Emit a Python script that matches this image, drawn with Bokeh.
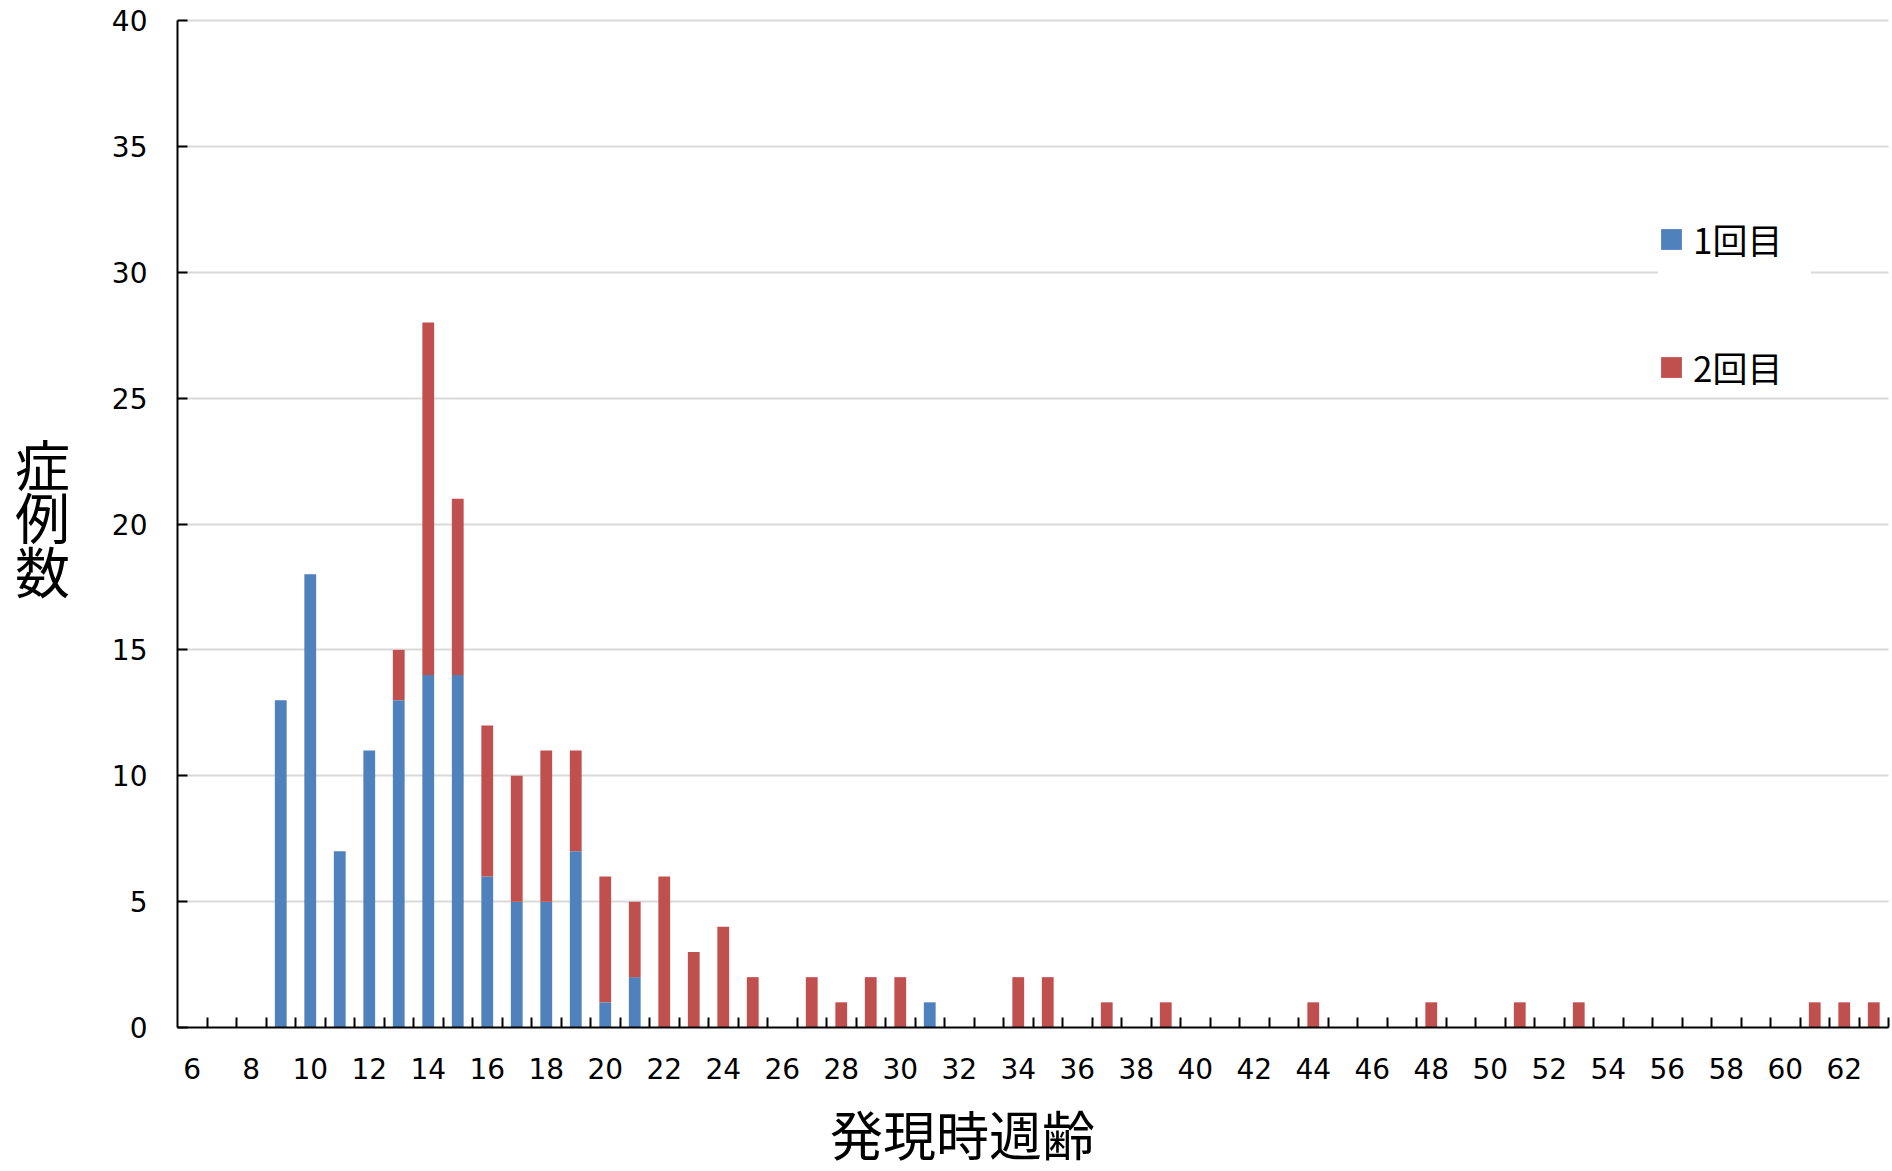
from bokeh.plotting import figure
from bokeh.models import (Range1d, FixedTicker, Legend, LegendItem, Label, Grid,
                          ColumnDataSource)
from bokeh.embed import file_html
from bokeh.resources import INLINE

# ---- data ----
weeks = list(range(6, 64))
first = [0, 0, 0, 13, 18, 7, 11, 13, 14, 14, 6, 5, 5, 7, 1, 2, 0, 0, 0, 0,
         0, 0, 0, 0, 0, 1, 0, 0, 0, 0, 0, 0, 0, 0, 0, 0, 0, 0, 0, 0,
         0, 0, 0, 0, 0, 0, 0, 0, 0, 0, 0, 0, 0, 0, 0, 0, 0, 0]
second = [0, 0, 0, 0, 0, 0, 0, 2, 14, 7, 6, 5, 6, 4, 5, 3, 6, 3, 4, 2,
          0, 2, 1, 2, 2, 0, 0, 0, 2, 2, 0, 1, 0, 1, 0, 0, 0, 0, 1, 0,
          0, 0, 1, 0, 0, 1, 0, 1, 0, 0, 0, 0, 0, 0, 0, 1, 1, 1]
series_names = ["1回目", "2回目"]
series_colors = ["#4F81BD", "#C0504D"]
x_tick_labels = list(range(6, 63, 2))
y_ticks = list(range(0, 41, 5))
x_title = "発現時週齢"
y_title = "症\n例\n数"

# ---- layout (pixels on the 1892x1171 canvas) ----
W, H = 1892, 1171
PLOT_LEFT, PLOT_RIGHT, PLOT_TOP, PLOT_BOTTOM = 177, 1888, 20, 1027
x_lo, x_hi = weeks[0] - 0.5, weeks[-1] + 0.5
y_lo, y_hi = y_ticks[0], y_ticks[-1]
sx = (PLOT_RIGHT - PLOT_LEFT) / (x_hi - x_lo)
sy = (PLOT_BOTTOM - PLOT_TOP) / (y_hi - y_lo)

source = ColumnDataSource(dict(week=weeks, first=first, second=second))

p = figure(width=W, height=H, output_backend="svg", toolbar_location=None,
           x_range=Range1d(x_lo - PLOT_LEFT / sx, x_hi + (W - PLOT_RIGHT) / sx),
           y_range=Range1d(y_lo - (H - PLOT_BOTTOM) / sy, y_hi + PLOT_TOP / sy),
           min_border=0, min_border_left=0, min_border_right=0,
           min_border_top=0, min_border_bottom=0)
p.outline_line_color = None
p.background_fill_color = "white"
p.border_fill_color = "white"

renderers = p.vbar_stack(["first", "second"], x="week", width=0.4, source=source,
                         color=series_colors, line_color=None)

# x axis (drawn at y = 0 inside the canvas-wide frame)
xa = p.xaxis[0]
xa.fixed_location = y_lo
xa.bounds = (x_lo, x_hi)
xa.ticker = FixedTicker(ticks=x_tick_labels,
                        minor_ticks=[w + 0.5 for w in weeks])
xa.major_tick_in = 0
xa.major_tick_out = 0
xa.minor_tick_in = 10
xa.minor_tick_out = 0
xa.minor_tick_line_color = "black"
xa.minor_tick_line_width = 2
xa.axis_line_color = "black"
xa.axis_line_width = 2
xa.major_label_standoff = 30
xa.major_label_text_font = "DejaVu Sans"
xa.major_label_text_font_size = "28px"
xa.major_label_text_color = "black"

# y axis (drawn at the left edge of the week range)
ya = p.yaxis[0]
ya.fixed_location = x_lo
ya.bounds = (y_lo, y_hi)
ya.ticker = FixedTicker(ticks=y_ticks)
ya.major_tick_in = 10
ya.major_tick_out = 0
ya.major_tick_line_color = "black"
ya.major_tick_line_width = 2
ya.minor_tick_line_color = None
ya.axis_line_color = "black"
ya.axis_line_width = 2
ya.major_label_standoff = 30
ya.major_label_text_font = "DejaVu Sans"
ya.major_label_text_font_size = "28px"
ya.major_label_text_color = "black"

p.xgrid.grid_line_color = None
yg = p.ygrid[0]
yg.ticker = FixedTicker(ticks=y_ticks[1:])
if "cross_bounds" in Grid.properties():
    yg.cross_bounds = (x_lo, x_hi)
    yg.grid_line_color = "#D9D9D9"
    yg.grid_line_width = 2
else:
    yg.grid_line_color = None
    p.segment(x0=[x_lo] * len(y_ticks[1:]), x1=[x_hi] * len(y_ticks[1:]),
              y0=y_ticks[1:], y1=y_ticks[1:], line_color="#D9D9D9",
              line_width=2, level="underlay")

# axis titles
p.add_layout(Label(x=962, y=1170, x_units="canvas", y_units="canvas",
                   text=x_title, text_font="Noto Sans CJK JP",
                   text_font_size="53px", text_align="center",
                   text_baseline="bottom", text_color="black"))
p.add_layout(Label(x=42, y=515, x_units="canvas", y_units="canvas",
                   text=y_title, text_font="Noto Sans CJK JP",
                   text_font_size="55px", text_align="center",
                   text_baseline="middle", text_color="black",
                   text_line_height=0.67))

legend = Legend(items=[LegendItem(label=n, renderers=[r])
                       for n, r in zip(series_names, renderers)],
                location=(1658, 779), orientation="vertical",
                label_text_font="Noto Sans CJK JP", label_text_font_size="35px",
                label_text_color="black",
                glyph_width=26, glyph_height=26, label_standoff=9,
                label_height=40, label_width=118, spacing=77, padding=37,
                margin=0, border_line_color=None,
                background_fill_color="white", background_fill_alpha=1.0)
p.add_layout(legend)

open("out.html", "w").write(file_html(p, INLINE))
